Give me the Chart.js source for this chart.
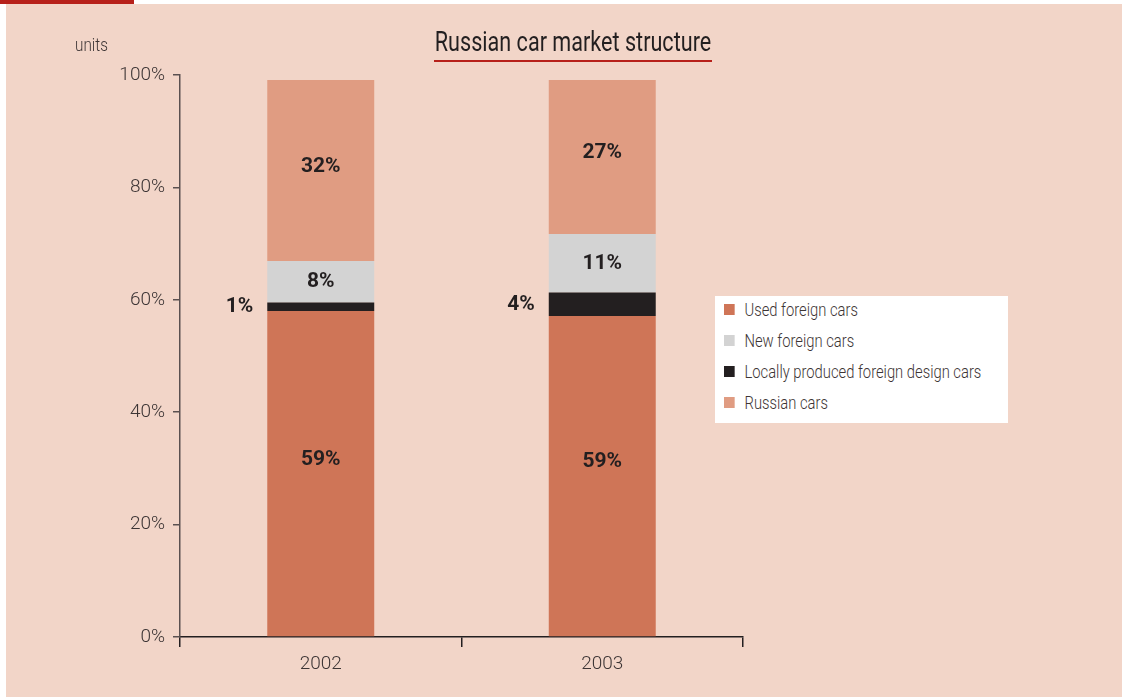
<!DOCTYPE html>
<html>
<head>
<meta charset="utf-8">
<script src="https://cdn.jsdelivr.net/npm/chart.js@4"></script>
<style>
  html, body { margin: 0; padding: 0; background: #fff; }
  body { width: 1126px; height: 699px; position: relative; overflow: hidden;
         font-family: Roboto, "Liberation Sans", sans-serif; }
  #topbar { position: absolute; left: 0; top: 0; width: 134px; height: 4px; background: #b7201a; }
  #panel { position: absolute; left: 6px; top: 4px; width: 1116px; height: 693px; background: #f2d5c8; }
  #wrap { position: absolute; left: 0; top: 0; width: 1126px; height: 699px; }
  #title { position: absolute; left: 434px; top: 27px; width: 278px; height: 33px;
           border-bottom: 2px solid #b7201a; white-space: nowrap; }
  #title span { position: absolute; left: 50%; top: 0; font-size: 27px; line-height: 30px; color: #231f20;
                transform: translateX(-50%) scaleX(0.8); }
  #units { position: absolute; left: 75px; top: 34px; font-size: 18px; font-weight: 300; color: #3d3535;
           transform: scaleX(0.85); transform-origin: left; }
  #legend { position: absolute; left: 715px; top: 296px; width: 293px; height: 127px; background: #fff; }
  #legend div { position: absolute; left: 9px; font-size: 18px; font-weight: 300; color: #3d3535; white-space: nowrap;
                transform: scaleX(0.82); transform-origin: left; }
  #legend span { display: inline-block; width: 13px; height: 11px; margin-right: 12px; vertical-align: 1px; }
</style>
</head>
<body>
<div id="topbar"></div>
<div id="panel"></div>
<div id="wrap"><canvas id="chart" width="1126" height="699"></canvas></div>
<div id="title"><span>Russian car market structure</span></div>
<div id="units">units</div>
<div id="legend"></div>
<script>
const years = ['2002', '2003'];
const usedForeign = [58.0, 57.1];
const localForeign = [1.5, 4.2];
const newForeign = [7.4, 10.4];
const russianCars = [32.2, 27.4];

const usedLabels = ['59%', '59%'];
const localLabels = ['1%', '4%'];
const newLabels = ['8%', '11%'];
const russianLabels = ['32%', '27%'];

const yTicks = [0, 20, 40, 60, 80, 100];

const datasets = [
  { label: 'Used foreign cars', data: usedForeign, backgroundColor: '#cf7557', texts: usedLabels, legendOrder: 0 },
  { label: 'Locally produced foreign design cars', data: localForeign, backgroundColor: '#231f20', texts: localLabels, legendOrder: 2, outside: true },
  { label: 'New foreign cars', data: newForeign, backgroundColor: '#d3d3d3', texts: newLabels, legendOrder: 1 },
  { label: 'Russian cars', data: russianCars, backgroundColor: '#e09c82', texts: russianLabels, legendOrder: 3 }
];

const fontFamily = 'Roboto, "Liberation Sans", sans-serif';

// value labels on the bars
const barLabels = {
  id: 'barLabels',
  afterDatasetsDraw(chart) {
    const ctx = chart.ctx;
    ctx.save();
    ctx.font = 'bold 21px ' + fontFamily;
    ctx.fillStyle = '#231f20';
    ctx.textBaseline = 'middle';
    chart.data.datasets.forEach((ds, i) => {
      chart.getDatasetMeta(i).data.forEach((bar, j) => {
        const yMid = (bar.y + bar.base) / 2;
        if (ds.outside) {
          ctx.textAlign = 'right';
          ctx.fillText(ds.texts[j], bar.x - bar.width / 2 - 14, yMid);
        } else {
          ctx.textAlign = 'center';
          const off = i === 0 ? -14 : (i === 3 ? -4 : 0);
          ctx.fillText(ds.texts[j], bar.x, yMid + off);
        }
      });
    });
    ctx.restore();
  }
};

const chart = new Chart(document.getElementById('chart'), {
  type: 'bar',
  data: { labels: years, datasets: datasets },
  options: {
    responsive: false,
    animation: false,
    layout: { padding: { left: 0, right: 383, top: 75, bottom: 0 } },
    datasets: { bar: { categoryPercentage: 1, barPercentage: 0.38 } },
    plugins: { legend: { display: false }, tooltip: { enabled: false } },
    scales: {
      x: {
        stacked: true,
        afterFit: s => { s.height = 62; },
        grid: { offset: true, drawOnChartArea: false, drawTicks: true, tickLength: 10, color: '#231f20', lineWidth: 1.5 },
        border: { color: '#231f20', width: 1.5 },
        ticks: { color: '#3d3535', font: { size: 19, weight: 300, family: fontFamily }, padding: 6 }
      },
      y: {
        stacked: true,
        min: 0, max: 100,
        afterFit: s => { s.width = 180; },
        afterBuildTicks: s => { s.ticks = yTicks.map(v => ({ value: v })); },
        grid: { drawOnChartArea: false, drawTicks: true, tickLength: 7, color: '#5a5050', lineWidth: 1.5 },
        border: { color: '#5a5050', width: 1.5 },
        ticks: { color: '#3d3535', font: { size: 19, weight: 300, family: fontFamily }, padding: 8, callback: v => v + '%' }
      }
    }
  },
  plugins: [barLabels]
});

// html legend in the original order
const legendEl = document.getElementById('legend');
datasets.slice().sort((a, b) => a.legendOrder - b.legendOrder).forEach((ds, k) => {
  const row = document.createElement('div');
  row.style.top = (3 + k * 31) + 'px';
  row.innerHTML = '<span style="background:' + ds.backgroundColor + '"></span>' + ds.label;
  legendEl.appendChild(row);
});
</script>
</body>
</html>
